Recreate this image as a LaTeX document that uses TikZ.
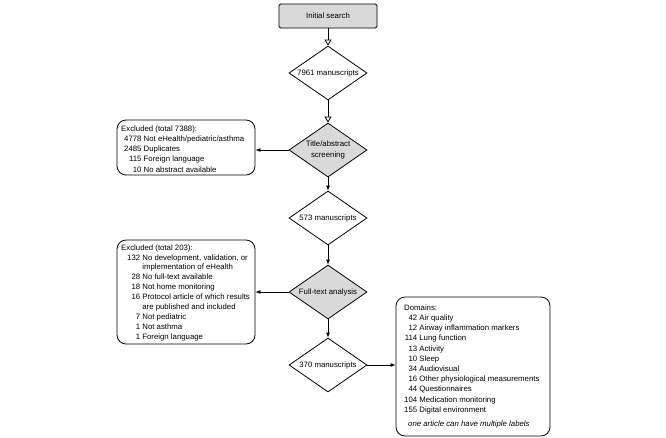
\documentclass[tikz,border=0pt]{standalone}
\usepackage{fontspec}
\setmainfont{Liberation Sans}
\usetikzlibrary{shapes.geometric,arrows.meta}
\begin{document}
\begin{tikzpicture}[x=1pt,y=-1pt,font=\fontsize{7.8}{10.2}\selectfont,
  dia/.style={diamond,draw,line width=0.8pt,aspect=1.45,inner sep=0pt,minimum width=78pt,minimum height=54pt,align=center},
  gray/.style={fill=gray!30},
  box/.style={draw,line width=0.8pt,rounded corners=9pt,inner sep=0pt},
  arr/.style={-{Latex[length=5pt,width=4pt]},line width=0.8pt},
  oarr/.style={-{Triangle[open,length=6pt,width=7pt]},line width=0.8pt}]
\useasboundingbox (0,0) rectangle (666,437);
\node[draw,line width=0.8pt,rounded corners=1.5pt,gray,minimum width=98pt,minimum height=24pt] (init) at (328,16) {Initial search};
\node[dia] (d1) at (328,73) {7961 manuscripts};
\node[dia,gray] (d2) at (328,150) {Title/abstract\\screening};
\node[dia] (d3) at (328,218) {573 manuscripts};
\node[dia,gray] (d4) at (328,292) {Full-text analysis};
\node[dia] (d5) at (328,365) {370 manuscripts};
\node[box,minimum width=138pt,minimum height=55pt] (b1) at (186,147.5) {};
\node[anchor=north west,inner sep=0pt] at (121,124) {\begin{tabular}{@{}r@{ }l@{}}
\multicolumn{2}{@{}l}{Excluded (total 7388):}\\
\hspace{3pt}4778 & Not eHealth/pediatric/asthma\\
2485 & Duplicates\\
115 & Foreign language\\
10 & No abstract available
\end{tabular}};
\node[box,minimum width=138pt,minimum height=104pt] (b2) at (186,292) {};
\node[anchor=north west,inner sep=0pt,font=\fontsize{7.8}{9.9}\selectfont] at (121,243) {\begin{tabular}{@{}r@{ }l@{}}
\multicolumn{2}{@{}l}{Excluded (total 203):}\\
\hspace{6pt}132 & No development, validation, or\\
 & implementation of eHealth\\
28 & No full-text available\\
18 & Not home monitoring\\
16 & Protocol article of which results\\
 & are published and included\\
7 & Not pediatric\\
1 & Not asthma\\
1 & Foreign language
\end{tabular}};
\node[box,minimum width=154pt,minimum height=139pt] (b3) at (473,366.5) {};
\node[anchor=north west,inner sep=0pt] at (404,303) {\begin{tabular}{@{}r@{ }l@{}}
\multicolumn{2}{@{}l}{Domains:}\\
42 & Air quality\\
12 & Airway inflammation markers\\
114 & Lung function\\
13 & Activity\\
10 & Sleep\\
34 & Audiovisual\\
16 & Other physiological measurements\\
44 & Questionnaires\\
104 & Medication monitoring\\
155 & Digital environment\\[4pt]
\multicolumn{2}{@{}l}{\hspace{4pt}\itshape one article can have multiple labels}
\end{tabular}};
\draw[oarr] (init) -- (d1);
\draw[oarr] (d1) -- (d2);
\draw[arr] (d2) -- (d3);
\draw[arr] (d3) -- (d4);
\draw[arr] (d4) -- (d5);
\draw[arr] (d2.west) -- (b1.east|-d2.west);
\draw[arr] (d4.west) -- (b2.east|-d4.west);
\draw[arr] (d5.east) -- (b3.west|-d5.east);
\end{tikzpicture}
\end{document}
